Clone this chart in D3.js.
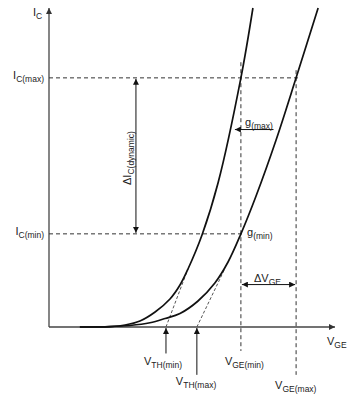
<!DOCTYPE html>
<html>
<head>
<meta charset="utf-8">
<script src="https://cdn.jsdelivr.net/npm/d3@7"></script>
<style>
  body { margin: 0; background: #fff; }
  svg text { font-family: "Liberation Sans", Arial, sans-serif; fill: #222; }
</style>
</head>
<body>
<svg id="chart" width="356" height="399"></svg>
<script>
// transfer curves (VGE in arbitrary units, IC in % of full scale)
const lowVthVge = [1.08, 2.13, 2.66, 3.18, 3.71, 4.23, 4.58, 4.86, 5.35, 5.91, 6.71, 7.13];
const lowVthIc = [0, 0.13, 0.63, 1.88, 4.7, 8.78, 13.17, 18.18, 28.84, 45.14, 78.1, 100];
const highVthVge = [1.08, 2.13, 2.83, 3.53, 4.06, 4.58, 5.21, 5.80, 6.26, 6.71, 7.24, 7.94, 8.64, 9.41];
const highVthIc = [0, 0.13, 0.47, 1.32, 2.66, 4.23, 8.15, 13.79, 20.38, 29.2, 41.07, 58.62, 78.1, 100];

// dashed tangents from the threshold points
const tangentLowVge = [4.09, 4.86];
const tangentLowIc = [0, 18.2];
const tangentHighVge = [5.17, 6.15];
const tangentHighIc = [0, 18.3];

// reference levels
const icLevels = [29.2, 78.1];            // IC(min), IC(max)
const icLevelEnds = [6.85, 8.8];
const vgeLevels = [6.71, 8.64];           // VGE(min), VGE(max)
const vgeLevelTops = [83, 80.5];
const vgeLevelBottoms = [-7.5, -15];
const vthLevels = [4.09, 5.17];           // VTH(min), VTH(max)
const vthArrowBottoms = [-8.3, -15];

const margin = { top: 8, right: 21, bottom: 72, left: 49 };
const width = 356;
const height = 399;

const x = d3.scaleLinear().domain([0, 10]).range([margin.left, width - margin.right]);
const y = d3.scaleLinear().domain([0, 100]).range([height - margin.bottom, margin.top]);

const svg = d3.select('#chart');

const defs = svg.append('defs');
function marker(id, color) {
  defs.append('marker')
    .attr('id', id)
    .attr('viewBox', '0 0 10 10')
    .attr('refX', 10)
    .attr('refY', 5)
    .attr('markerWidth', 6)
    .attr('markerHeight', 6)
    .attr('orient', 'auto-start-reverse')
    .attr('markerUnits', 'userSpaceOnUse')
    .append('path')
    .attr('d', 'M0,0 L10,5 L0,10 z')
    .attr('fill', color);
}
marker('arrow', '#111');
marker('axisArrow', '#333');

const x0 = x(0);
const y0 = y(0);

// axes
svg.append('line')
  .attr('x1', x0).attr('y1', y0)
  .attr('x2', x0).attr('y2', y(100))
  .attr('stroke', '#444').attr('stroke-width', 1.3)
  .attr('marker-end', 'url(#axisArrow)');
svg.append('line')
  .attr('x1', x0).attr('y1', y0)
  .attr('x2', x(10)).attr('y2', y0)
  .attr('stroke', '#444').attr('stroke-width', 1.3)
  .attr('marker-end', 'url(#axisArrow)');

// dashed reference lines
const dash = '4,3';
icLevels.forEach((v, i) => {
  svg.append('line')
    .attr('x1', x0).attr('x2', x(icLevelEnds[i]))
    .attr('y1', y(v)).attr('y2', y(v))
    .attr('stroke', '#333').attr('stroke-width', 1)
    .attr('stroke-dasharray', dash);
});
vgeLevels.forEach((v, i) => {
  svg.append('line')
    .attr('x1', x(v)).attr('x2', x(v))
    .attr('y1', y(vgeLevelTops[i])).attr('y2', y(vgeLevelBottoms[i]))
    .attr('stroke', '#333').attr('stroke-width', 1)
    .attr('stroke-dasharray', dash);
});

const line = d3.line()
  .x(d => x(d[0]))
  .y(d => y(d[1]));

[[tangentLowVge, tangentLowIc], [tangentHighVge, tangentHighIc]].forEach(([vx, vy]) => {
  svg.append('path')
    .datum(d3.zip(vx, vy))
    .attr('d', line)
    .attr('fill', 'none')
    .attr('stroke', '#555').attr('stroke-width', 1)
    .attr('stroke-dasharray', '3,2');
});

// curves
const curve = d3.line()
  .x(d => x(d[0]))
  .y(d => y(d[1]))
  .curve(d3.curveCatmullRom.alpha(0.5));

[[lowVthVge, lowVthIc], [highVthVge, highVthIc]].forEach(([vx, vy]) => {
  svg.append('path')
    .datum(d3.zip(vx, vy))
    .attr('d', curve)
    .attr('fill', 'none')
    .attr('stroke', '#111')
    .attr('stroke-width', 1.7);
});

// threshold arrows
vthLevels.forEach((v, i) => {
  svg.append('line')
    .attr('x1', x(v)).attr('x2', x(v))
    .attr('y1', y(vthArrowBottoms[i])).attr('y2', y0 + 1)
    .attr('stroke', '#111').attr('stroke-width', 1)
    .attr('marker-end', 'url(#arrow)');
});

// delta IC arrow
const dIcX = x(3.04);
svg.append('line')
  .attr('x1', dIcX).attr('x2', dIcX)
  .attr('y1', y(icLevels[1]) + 1).attr('y2', y(icLevels[0]) - 1)
  .attr('stroke', '#111').attr('stroke-width', 1)
  .attr('marker-start', 'url(#arrow)')
  .attr('marker-end', 'url(#arrow)');

// delta VGE arrow
svg.append('line')
  .attr('x1', x(vgeLevels[0]) + 1).attr('x2', x(vgeLevels[1]) - 1)
  .attr('y1', y(13.3)).attr('y2', y(13.3))
  .attr('stroke', '#111').attr('stroke-width', 1)
  .attr('marker-start', 'url(#arrow)')
  .attr('marker-end', 'url(#arrow)');

// g(max) arrow
svg.append('line')
  .attr('x1', x(7.85)).attr('x2', x(6.5))
  .attr('y1', y(61.9)).attr('y2', y(61.9))
  .attr('stroke', '#111').attr('stroke-width', 1)
  .attr('marker-end', 'url(#arrow)');

// labels with subscripts
function label(px, py, main, sub, anchor) {
  const t = svg.append('text')
    .attr('x', px).attr('y', py)
    .attr('font-size', 11)
    .attr('text-anchor', anchor || 'start');
  t.append('tspan').text(main);
  t.append('tspan').attr('dy', 3).attr('font-size', 8.5).text(sub);
  return t;
}

label(33, 16, 'I', 'C');
label(44, y(icLevels[1]) + 1, 'I', 'C(max)', 'end');
label(44, y(icLevels[0]) + 1, 'I', 'C(min)', 'end');
label(327, 345, 'V', 'GE');
label(x(vthLevels[0]) - 22, 365, 'V', 'TH(min)');
label(x(vthLevels[1]) - 21, 385, 'V', 'TH(max)');
label(x(vgeLevels[0]) - 16, 365, 'V', 'GE(min)');
label(x(vgeLevels[1]) - 21, 389, 'V', 'GE(max)');
label(245, 126, 'g', '(max)');
label(247, 236, 'g', '(min)');
label(254, 282, '\u0394V', 'GE');

// rotated delta IC label
const rot = svg.append('text')
  .attr('transform', `translate(${dIcX - 5},185) rotate(-90)`)
  .attr('font-size', 11);
rot.append('tspan').text('\u0394I');
rot.append('tspan').attr('dy', 3).attr('font-size', 8.5).text('C(dynamic)');
</script>
</body>
</html>
